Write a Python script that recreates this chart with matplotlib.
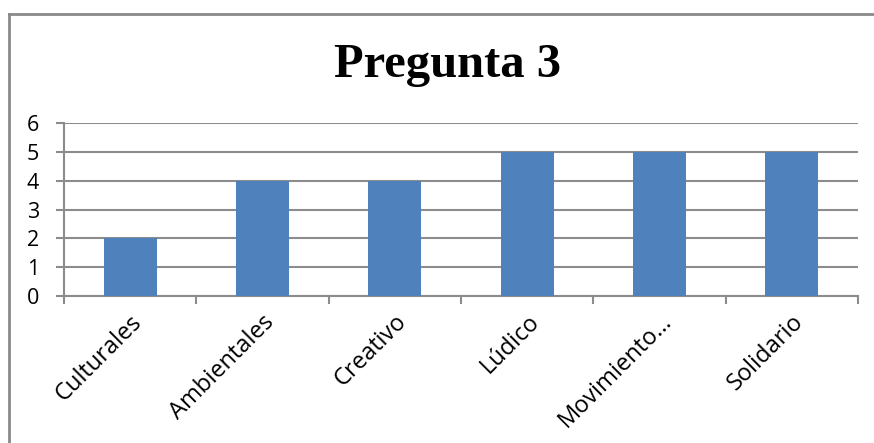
import matplotlib.pyplot as plt
import numpy as np
from matplotlib.lines import Line2D

categorias = ["Culturales", "Ambientales", "Creativo", "Lúdico", "Movimiento…", "Solidario"]
valores = [2, 4, 4, 5, 5, 5]

fig = plt.figure(figsize=(8.74, 4.43), dpi=100)
ax = fig.add_axes([64 / 874, 1 - 296 / 443, (858 - 64) / 874, (296 - 123) / 443])

x = np.arange(len(categorias))
ax.bar(x, valores, width=0.4, color="#4F81BD", zorder=3)

ax.set_xlim(-0.5, len(categorias) - 0.5)
ax.set_ylim(0, 6)
ax.set_yticks(range(0, 7))
ax.yaxis.grid(True, color="#8C8C8C", linewidth=1.5, zorder=0)

# ticks on category boundaries, labels at centers
ax.set_xticks(np.arange(-0.5, len(categorias)), minor=False)
ax.set_xticklabels([])
ax.set_xticks(x, minor=True)
ax.set_xticklabels(categorias, minor=True, rotation=45, ha="right",
                   rotation_mode="anchor", fontsize=17, family="Open Sans")
ax.tick_params(axis="x", which="minor", length=0, pad=10)
ax.tick_params(axis="x", which="major", length=6, width=1.5, color="#8C8C8C")
ax.tick_params(axis="y", length=6, width=1.5, color="#8C8C8C", labelsize=15.5, pad=12)
for lab in ax.get_yticklabels():
    lab.set_family("Open Sans")

for s in ["top", "right"]:
    ax.spines[s].set_visible(False)
for s in ["left", "bottom"]:
    ax.spines[s].set_color("#8C8C8C")
    ax.spines[s].set_linewidth(1.5)

fig.text(448 / 874, 1 - 77 / 443, "Pregunta 3", ha="center", va="baseline",
         fontsize=35, fontweight="bold", family="Liberation Serif")

# outer chart border (only top and left visible)
fig.add_artist(Line2D([9 / 874, 9 / 874], [0, 1 - 13.5 / 443], color="#8A8A8A", linewidth=2))
fig.add_artist(Line2D([9 / 874, 873 / 874], [1 - 13.5 / 443, 1 - 13.5 / 443], color="#8A8A8A", linewidth=2))

fig.savefig("out.png", dpi=100)
